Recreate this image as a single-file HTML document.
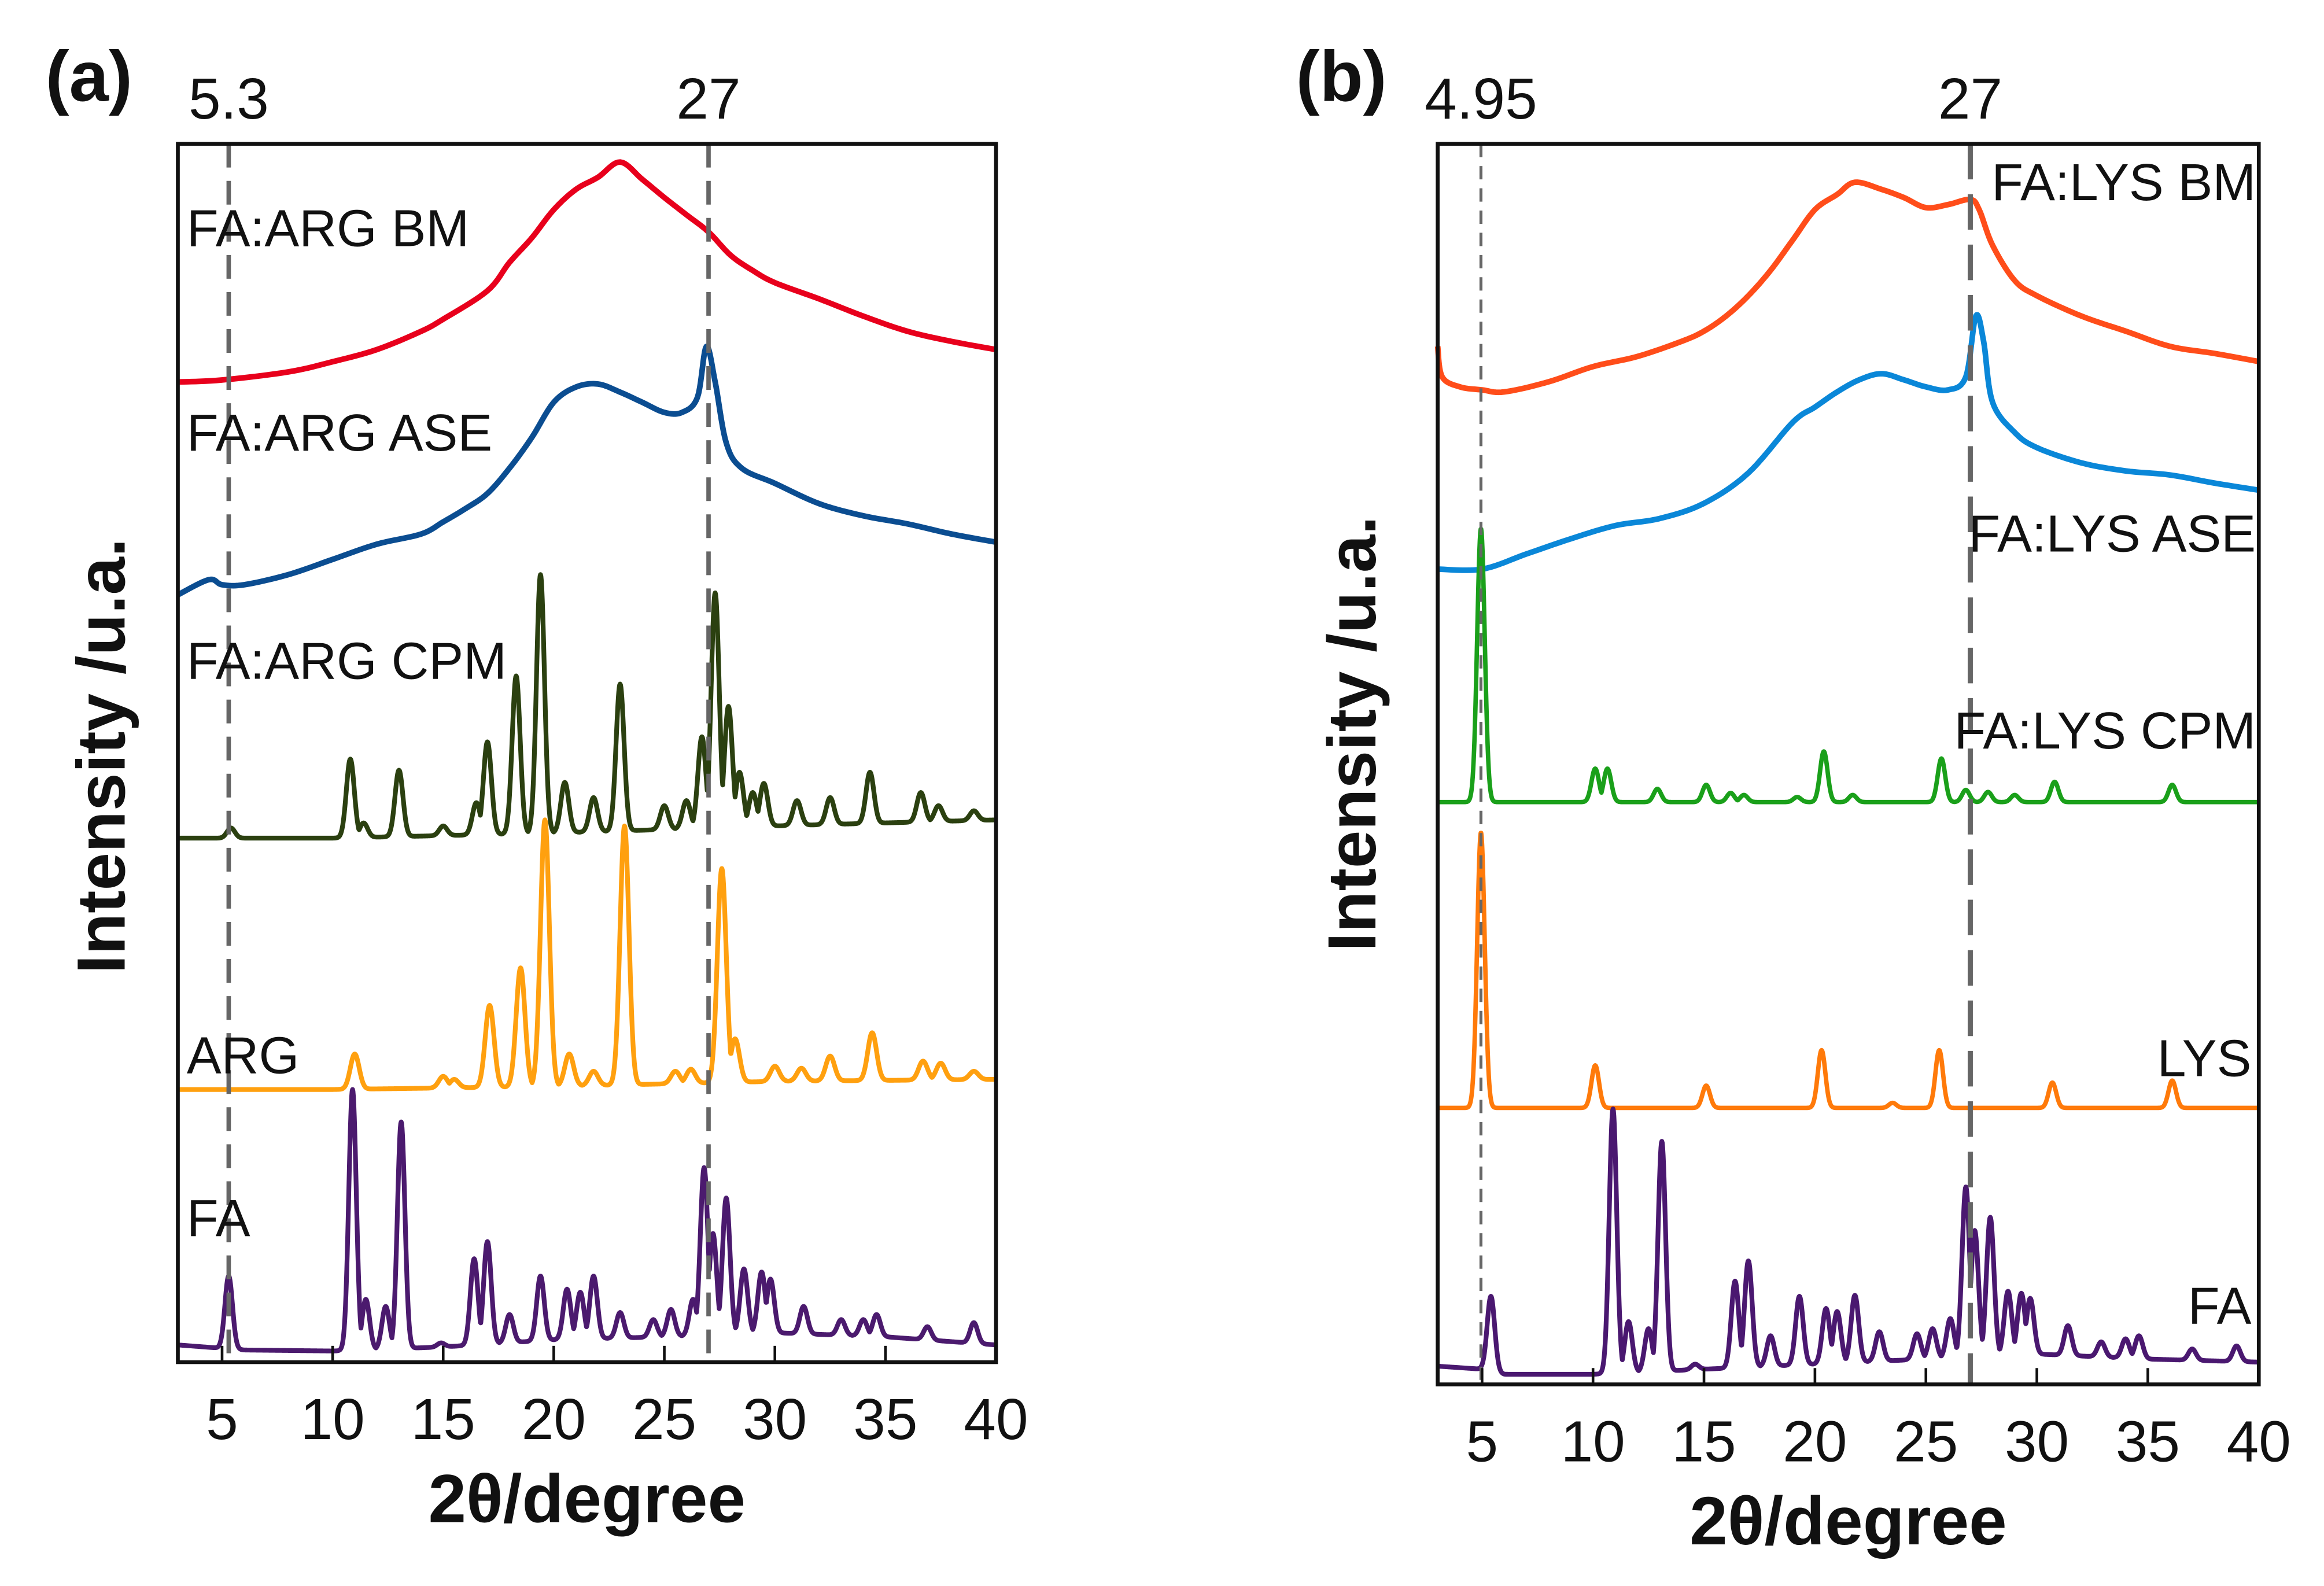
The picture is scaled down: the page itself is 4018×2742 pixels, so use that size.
<!DOCTYPE html>
<html><head><meta charset="utf-8"><style>
html,body{margin:0;padding:0;background:#fff;}
svg{display:block;}
text{font-family:"Liberation Sans",Arial,sans-serif;}
</style></head><body>
<svg id="fig" width="4018" height="2742" viewBox="0 0 1568 1070" xmlns="http://www.w3.org/2000/svg">
<rect width="1568" height="1070" fill="#fff"/>
<g id="pa"></g>
<g id="pb"></g>
</svg>
<script>
// ===== Panel A data (x in degrees 2θ, intensity in arbitrary units) =====
const aBMx=[3,5,8,10,12,14,15,17,18,19,20,21,22,23,24,25,26,27,28,29,30,32,34,36,38,40];
const aBMy=[967,969,977,987,999,1017,1029,1057,1085,1109,1137,1157,1169,1184,1167,1149,1132,1115,1092,1077,1065,1049,1032,1017,1007,999];
const aASEx=[3,4.4,5,6,8,10,12,14,15,16,17,18,19,20,21,22,23,24,25,25.8,26.5,26.9,27.3,27.8,28.5,30,32,34,36,38,40];
const aASEy=[757,772,767,767,777,792,807,817,829,842,857,882,912,947,962,965,957,947,937,937,952,1002,967,907,882,867,847,835,827,817,809];
const aCPMbx=[3,10,20,30,40];
const aCPMby=[517,517,522,529,535];
const aCPMpos=[5.4,10.8,11.4,13.0,15.0,16.5,17.0,18.3,19.4,20.5,21.8,23.0,25.0,26.0,26.7,27.3,27.9,28.4,29.0,29.5,31.0,32.5,34.3,36.6,37.4,39.0];
const aCPMtop=[527,595,532,584,529,552,612,677,777,572,557,669,549,554,617,759,647,582,562,571,554,557,582,562,549,544];
const aARGbx=[3,10,20,30,40];
const aARGby=[269,269,272,277,279];
const aARGpos=[11.0,15.0,15.5,17.1,18.5,19.6,20.7,21.8,23.2,25.5,26.2,27.6,28.2,30.0,31.2,32.5,34.4,36.7,37.5,39.0];
const aARGtop=[304,282,279,352,389,535,304,287,529,287,289,487,319,292,290,302,325,297,295,287];
const aFAbx=[3,6,10,15,20,25,30,35,40];
const aFAby=[17,12,11,15,22,25,29,25,17];
const aFApos=[5.3,10.9,11.5,12.4,13.1,14.9,16.4,17.0,18.0,19.4,20.6,21.2,21.8,23.0,24.5,25.3,26.3,26.8,27.2,27.8,28.6,29.4,29.8,31.3,33.0,34.0,34.6,36.9,39.0];
const aFAtop=[85,269,62,55,237,19,102,119,47,85,72,69,85,49,42,52,62,192,127,162,92,89,82,55,42,42,47,35,39];
// ===== Panel B data =====
const bBMx=[3,3.2,4,5,6,8,10,12,14,15,16,17,18,19,20,21,21.8,23,24,25,26,27,27.4,28,29,30,32,34,36,38,40];
const bBMy=[1025,995,985,982,980,990,1005,1015,1030,1040,1055,1075,1100,1130,1160,1175,1187,1180,1172,1162,1165,1170,1160,1125,1090,1075,1055,1040,1025,1018,1010];
const bASEx=[3,5,7,9,11,13,15,17,19,20,21,22,23,24,25,26,26.8,27.25,27.6,28,29,30,32,34,36,38,40];
const bASEy=[805,805,820,835,848,855,870,900,950,965,980,992,998,992,985,982,995,1055,1030,970,940,925,910,902,898,890,883];
const bCPMbx=[3,40];
const bCPMby=[575,575];
const bCPMpos=[4.95,10.1,10.65,12.9,15.1,16.2,16.8,19.2,20.4,21.7,25.7,26.8,27.8,29.0,30.8,36.1];
const bCPMtop=[845,608,608,588,592,584,582,580,625,582,618,587,585,582,595,592];
const bLYSbx=[3,40];
const bLYSby=[273,273];
const bLYSpos=[4.95,10.1,15.1,20.3,23.5,25.6,30.7,36.1];
const bLYStop=[545,315,295,330,278,330,298,300];
const bFAbx=[3,5,6,10,15,20,25,30,35,40];
const bFAby=[18,15,10,10,15,20,25,30,25,22];
const bFApos=[5.4,10.9,11.6,12.5,13.1,14.6,16.4,17.0,18.0,19.3,20.5,21.0,21.8,22.9,24.6,25.3,26.1,26.8,27.2,27.9,28.7,29.3,29.7,31.4,32.9,34.0,34.6,37.0,39.0];
const bFAtop=[87,272,62,55,240,20,102,122,48,87,75,72,88,52,50,55,65,195,152,165,92,90,85,58,42,45,48,35,38];
const xTicks=[5,10,15,20,25,30,35,40];
const aRefLines=[5.3,27];
const bRefLines=[4.95,27];

const NS="http://www.w3.org/2000/svg";
function mk(tag,attrs,parent){const e=document.createElementNS(NS,tag);for(const k in attrs)e.setAttribute(k,attrs[k]);parent.appendChild(e);return e;}
function interp(xs,ys,x){if(x<=xs[0])return ys[0];for(let i=1;i<xs.length;i++){if(x<=xs[i]){const t=(x-xs[i-1])/(xs[i]-xs[i-1]);return ys[i-1]+t*(ys[i]-ys[i-1]);}}return ys[ys.length-1];}
function crystal(bx,by,pos,top,sig){const pts=[];for(let x=3;x<=40.0001;x+=0.02){const b=interp(bx,by,x);let v=b;for(let i=0;i<pos.length;i++){const amp=top[i]-interp(bx,by,pos[i]);const g=b+amp*Math.exp(-0.5*Math.pow((x-pos[i])/sig,2));if(g>v)v=g;}pts.push([x,v]);}return pts;}
function smooth(xs,ys){const pts=[];const n=xs.length;for(let i=0;i<n-1;i++){const x0=i>0?xs[i-1]:xs[i],y0=i>0?ys[i-1]:ys[i];const x3=i<n-2?xs[i+2]:xs[i+1],y3=i<n-2?ys[i+2]:ys[i+1];for(let s=0;s<10;s++){const t=s/10,t2=t*t,t3=t2*t;const f=(p0,p1,p2,p3)=>0.5*(2*p1+(-p0+p2)*t+(2*p0-5*p1+4*p2-p3)*t2+(-p0+3*p1-3*p2+p3)*t3);pts.push([f(x0,xs[i],xs[i+1],x3),f(y0,ys[i],ys[i+1],y3)]);}}pts.push([xs[n-1],ys[n-1]]);return pts;}

function panel(g,P){
  const X=d=>P.l+(d-3)/37*(P.r-P.l);
  const Y=v=>P.b-v/P.vmax*(P.b-P.t);
  P.series.forEach(s=>{
    const d=s.pts.map((p,i)=>(i?'L':'M')+X(p[0]).toFixed(2)+','+Y(p[1]).toFixed(2)).join('');
    const el=mk('path',{d:d,fill:'none',stroke:s.color,'stroke-width':s.w,'stroke-linejoin':'round'},g);
    
    
  });
  P.refs.forEach((r,i)=>{
    const el=mk('line',{x1:X(r),x2:X(r),y1:P.t,y2:P.b,stroke:'#666','stroke-width':P.refW[i],'stroke-dasharray':P.refD[i]},g);
    
    
    const t=mk('text',{x:X(r),y:80,'font-size':39,'text-anchor':'middle',fill:'#111'},g);
    t.textContent=P.refLabels[i];
    
    
  });
  const fr=mk('rect',{x:P.l,y:P.t,width:P.r-P.l,height:P.b-P.t,fill:'none',stroke:'#111','stroke-width':2.6},g);
  
  
  xTicks.forEach(v=>{
    const tk=mk('line',{x1:X(v),x2:X(v),y1:P.b,y2:P.b-11,stroke:'#111','stroke-width':1.8},g);
    
    
    const tl=mk('text',{x:X(v),y:P.b+52,'font-size':39,'text-anchor':'middle',fill:'#111'},g);
    tl.textContent=v;
    
    
  });
  const xt=mk('text',{x:(P.l+P.r)/2,y:P.b+108,'font-size':46,'font-weight':'bold','text-anchor':'middle',fill:'#111'},g);
  xt.textContent='2θ/degree';
  
  
  const yt=mk('text',{x:0,y:0,'font-size':46,'font-weight':'bold','text-anchor':'middle',fill:'#111',transform:'translate('+P.ytx+','+P.yty+') rotate(-90)'},g);
  yt.textContent='Intensity /u.a.';
  
  
  const pl=mk('text',{x:P.plx,y:68,'font-size':48,'font-weight':'bold','text-anchor':'middle',fill:'#111'},g);
  pl.textContent=P.panelLabel;
  
  
  P.labels.forEach(L=>{
    const t=mk('text',{x:L[1],y:L[2],'font-size':35,'text-anchor':L[3],fill:'#111'},g);
    t.textContent=L[0];
    
    
  });
}

panel(document.getElementById('pa'),{
  l:120,r:672,t:97,b:919,vmax:1202,
  series:[
    {name:'fa-arg-bm-line',color:'#e8001c',w:3.8,pts:smooth(aBMx,aBMy)},
    {name:'fa-arg-ase-line',color:'#0b4d91',w:3.8,pts:smooth(aASEx,aASEy)},
    {name:'fa-arg-cpm-line',color:'#2b4010',w:3.2,pts:crystal(aCPMbx,aCPMby,aCPMpos,aCPMtop,0.18)},
    {name:'arg-line',color:'#ffa00f',w:3.2,pts:crystal(aARGbx,aARGby,aARGpos,aARGtop,0.2)},
    {name:'fa-line',color:'#4b1a6e',w:3.2,pts:crystal(aFAbx,aFAby,aFApos,aFAtop,0.17)}
  ],
  refs:aRefLines,refW:[3,3],refD:['16,9','16,9'],refLabels:['5.3','27'],
  ytx:84,yty:510,plx:60,panelLabel:'(a)',
  labels:[['FA:ARG BM',126,166,'start'],['FA:ARG ASE',126,304,'start'],['FA:ARG CPM',126,458,'start'],['ARG',126,724,'start'],['FA',126,834,'start']]
});
panel(document.getElementById('pb'),{
  l:970,r:1524,t:97,b:934,vmax:1225,
  series:[
    {name:'fa-lys-bm-line',color:'#ff4d1a',w:3.8,pts:smooth(bBMx,bBMy)},
    {name:'fa-lys-ase-line',color:'#0a87d8',w:3.8,pts:smooth(bASEx,bASEy)},
    {name:'fa-lys-cpm-line',color:'#1aa01a',w:3,pts:crystal(bCPMbx,bCPMby,bCPMpos,bCPMtop,0.17)},
    {name:'lys-line',color:'#ff7a0a',w:3,pts:crystal(bLYSbx,bLYSby,bLYSpos,bLYStop,0.17)},
    {name:'fa-line-b',color:'#4a1870',w:3.2,pts:crystal(bFAbx,bFAby,bFApos,bFAtop,0.17)}
  ],
  refs:bRefLines,refW:[2,3.5],refD:['9,6','24,10'],refLabels:['4.95','27'],
  ytx:928,yty:495,plx:905,panelLabel:'(b)',
  labels:[['FA:LYS BM',1522,135,'end'],['FA:LYS ASE',1522,372,'end'],['FA:LYS CPM',1522,505,'end'],['LYS',1519,726,'end'],['FA',1519,893,'end']]
});
</script>
</body></html>
